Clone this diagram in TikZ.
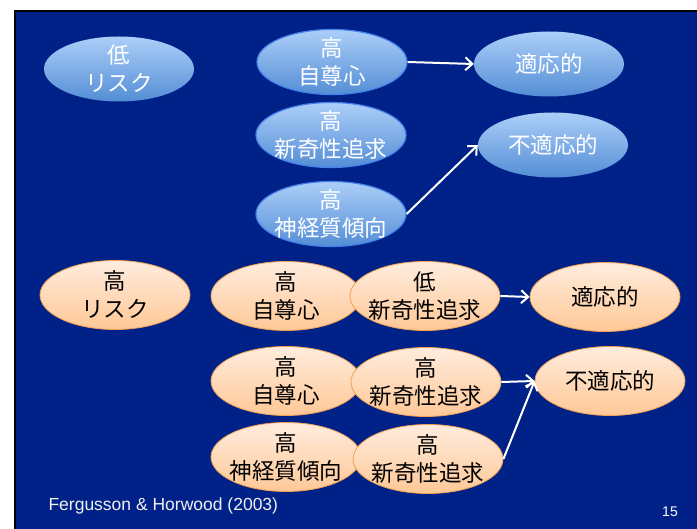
\documentclass[tikz,border=0pt]{standalone}
\usepackage{fontspec}
\setmainfont{Liberation Sans}
\newfontfamily\jpfont{Noto Sans CJK JP}
\usepackage{tikz}
\usetikzlibrary{shapes.geometric,arrows.meta}

\definecolor{slidebg}{RGB}{0,34,136}
\definecolor{bluetop}{RGB}{172,206,248}
\definecolor{bluebot}{RGB}{84,142,214}
\definecolor{blueedge}{RGB}{70,130,235}
\definecolor{orangetop}{RGB}{255,236,222}
\definecolor{orangebot}{RGB}{255,200,150}
\definecolor{orangeedge}{RGB}{240,160,80}

\tikzset{
  oval/.style={ellipse, inner xsep=-9pt, inner ysep=-7pt, minimum width=150pt,
    minimum height=65pt, align=center, font=\jpfont\fontsize{22.5}{28}\selectfont},
  bluefill/.style={oval, top color=bluetop, bottom color=bluebot, text=white},
  blueline/.style={bluefill, draw=blueedge, line width=1.2pt},
  orangefill/.style={oval, minimum height=69pt, top color=orangetop,
    bottom color=orangebot, draw=orangeedge, line width=0.8pt, text=black},
  link/.style={draw=white, line width=2pt, -{Straight Barb[length=7pt,width=13pt]}}
}

\begin{document}
\begin{tikzpicture}[x=1pt, y=-1pt]
      \useasboundingbox (0,0) rectangle (697,529);

      % ---- slide background ---------------------------
      \fill[slidebg] (15,11) rectangle (697,529);
      \draw[black, line width=2pt] (15,529) -- (15,11) -- (697,11);

      % ---- low risk (blue) ----------------------------
      \node[bluefill] (lowrisk) at (119,69) {低\\リスク};
      \node[blueline] (selfB) at (332,62) {高\\自尊心};
      \node[blueline] (noveltyB) at (331,135) {高\\新奇性追求};
      \node[blueline] (neuroB) at (331,214) {高\\神経質傾向};
      \node[bluefill] (adaptB) at (549,64) {適応的};
      \node[bluefill] (maladaptB) at (553,145) {不適応的};

      \draw[link] (selfB.east) -- (adaptB.west);
      \draw[link] (neuroB.east) -- (maladaptB.west);

      % ---- high risk (orange) -------------------------
      \node[orangefill] (highrisk) at (115,295) {高\\リスク};
      \node[orangefill] (selfO1) at (286,296) {高\\自尊心};
      \node[orangefill] (noveltyO1) at (425,296) {低\\新奇性追求};
      \node[orangefill] (adaptO) at (605,297) {適応的};
      \node[orangefill] (selfO2) at (286,381) {高\\自尊心};
      \node[orangefill] (noveltyO2) at (426,382) {高\\新奇性追求};
      \node[orangefill] (maladaptO) at (610,381) {不適応的};
      \node[orangefill] (neuroO) at (286,457) {高\\神経質傾向};
      \node[orangefill] (noveltyO3) at (428,459) {高\\新奇性追求};

      \draw[link] (noveltyO1.east) -- (adaptO.west);
      \draw[link] (noveltyO2.east) -- (maladaptO.west);
      \draw[link] (noveltyO3.east) -- (maladaptO.west);

      % ---- footer -------------------------------------
      \node[anchor=west, text=gray!12, font=\fontsize{17.5}{20}\selectfont] (source) at (45,506) {Fergusson \& Horwood (2003)};
      \node[text=white, font=\fontsize{14}{16}\selectfont] (page) at (670,512) {15};
    \end{tikzpicture}
\end{document}
